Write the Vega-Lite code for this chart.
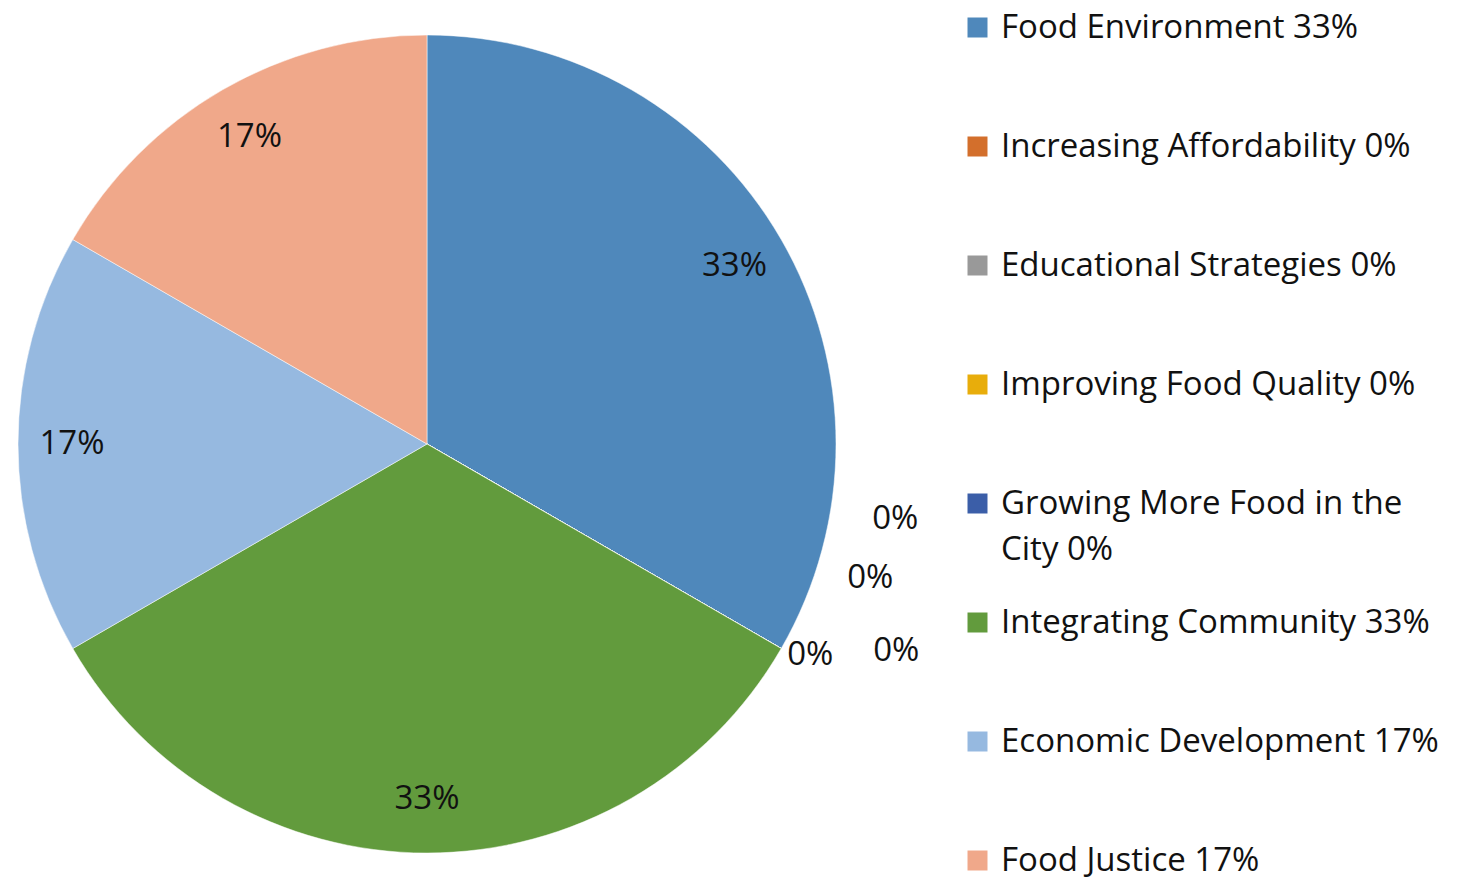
{
  "$schema": "https://vega.github.io/schema/vega-lite/v6.json",
  "width": 854,
  "height": 888,
  "autosize": {"type": "none"},
  "padding": {"left": 0, "top": 0, "right": 616, "bottom": 0},
  "background": "white",
  "config": {
    "view": {"stroke": null},
    "text": {"font": "Open Sans", "fontSize": 33, "color": "#111111"},
    "style": {"guide-label": {"lineHeight": 46}}
  },
  "data": {"values": [
    {"k": 1, "name": "Food Environment 33%", "value": 33.333, "pct": "33%"},
    {"k": 2, "name": "Increasing Affordability 0%", "value": 0, "pct": "0%"},
    {"k": 3, "name": "Educational Strategies 0%", "value": 0, "pct": "0%"},
    {"k": 4, "name": "Improving Food Quality 0%", "value": 0, "pct": "0%"},
    {"k": 5, "name": "Growing More Food in the City 0%", "value": 0, "pct": "0%"},
    {"k": 6, "name": "Integrating Community 33%", "value": 33.333, "pct": "33%"},
    {"k": 7, "name": "Economic Development 17%", "value": 16.667, "pct": "17%"},
    {"k": 8, "name": "Food Justice 17%", "value": 16.667, "pct": "17%"}
  ]},
  "encoding": {
    "theta": {"field": "value", "type": "quantitative", "stack": true},
    "order": {"field": "k", "type": "quantitative"}
  },
  "layer": [
    {
      "mark": {"type": "arc", "outerRadius": 409, "stroke": "white", "strokeWidth": 0.5},
      "encoding": {
        "color": {
          "field": "name", "type": "nominal",
          "scale": {
            "domain": ["Food Environment 33%", "Increasing Affordability 0%", "Educational Strategies 0%", "Improving Food Quality 0%", "Growing More Food in the City 0%", "Integrating Community 33%", "Economic Development 17%", "Food Justice 17%"],
            "range": ["#4F88BB", "#D36F2C", "#999999", "#E8AD0B", "#3B5EA8", "#629B3D", "#96B9E0", "#F0A88A"]
          },
          "legend": {
            "title": null,
            "orient": "none",
            "legendX": 961,
            "legendY": 11,
            "columns": 1,
            "gridAlign": "all",
            "symbolType": "square",
            "symbolSize": 400,
            "symbolStrokeWidth": 0,
            "labelFont": "Open Sans",
            "labelFontSize": 33,
            "labelColor": "#111111",
            "labelLimit": 600,
            "labelOffset": 7,
            "rowPadding": 39,
            "padding": 0,
            "labelExpr": "datum.label == 'Growing More Food in the City 0%' ? ['Growing More Food in the', 'City 0%'] : datum.label"
          }
        }
      }
    },
    {
      "transform": [{"filter": "datum.value > 0"}],
      "mark": {"type": "text", "radius": 355},
      "encoding": {"text": {"field": "pct", "type": "nominal"}}
    },
    {
      "mark": {"type": "text", "radius": 409, "dx": 114, "dy": -129},
      "encoding": {"text": {"condition": {"test": "datum.k == 2", "field": "pct"}, "value": ""}}
    },
    {
      "mark": {"type": "text", "radius": 409, "dx": 89, "dy": -70},
      "encoding": {"text": {"condition": {"test": "datum.k == 3", "field": "pct"}, "value": ""}}
    },
    {
      "mark": {"type": "text", "radius": 409, "dx": 115, "dy": 3},
      "encoding": {"text": {"condition": {"test": "datum.k == 4", "field": "pct"}, "value": ""}}
    },
    {
      "mark": {"type": "text", "radius": 409, "dx": 29, "dy": 7},
      "encoding": {"text": {"condition": {"test": "datum.k == 5", "field": "pct"}, "value": ""}}
    }
  ]
}
